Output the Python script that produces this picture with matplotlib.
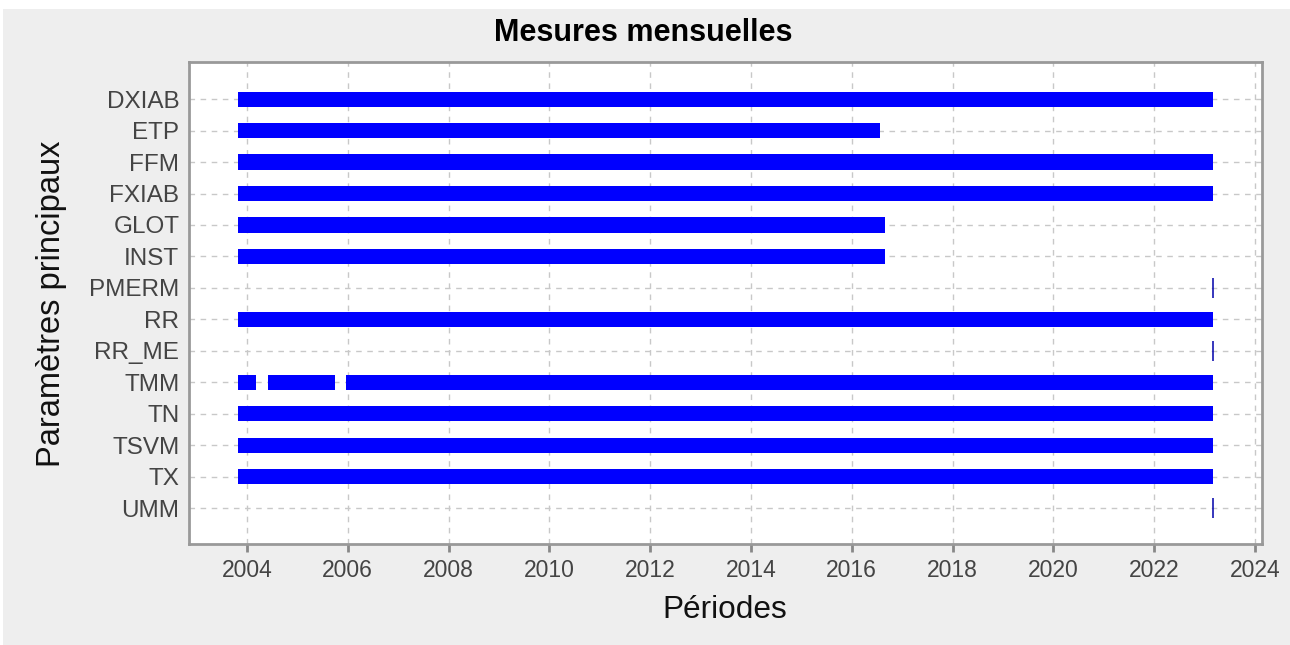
import matplotlib
matplotlib.use("Agg")
import matplotlib.pyplot as plt
from matplotlib.patches import Rectangle

plt.rcParams['font.family'] = ['Liberation Sans', 'DejaVu Sans']

# parameters, top to bottom
params = ['DXIAB', 'ETP', 'FFM', 'FXIAB', 'GLOT', 'INST', 'PMERM',
          'RR', 'RR_ME', 'TMM', 'TN', 'TSVM', 'TX', 'UMM']

# measurement periods per parameter, as (start, end) in decimal years
periods = {
    'DXIAB': [(2003.83, 2023.17)],
    'ETP':   [(2003.83, 2016.56)],
    'FFM':   [(2003.83, 2023.17)],
    'FXIAB': [(2003.83, 2023.17)],
    'GLOT':  [(2003.83, 2016.66)],
    'INST':  [(2003.83, 2016.66)],
    'PMERM': [(2023.17, 2023.17)],
    'RR':    [(2003.83, 2023.17)],
    'RR_ME': [(2023.17, 2023.17)],
    'TMM':   [(2003.83, 2004.17), (2004.42, 2005.75), (2005.96, 2023.17)],
    'TN':    [(2003.83, 2023.17)],
    'TSVM':  [(2003.83, 2023.17)],
    'TX':    [(2003.83, 2023.17)],
    'UMM':   [(2023.17, 2023.17)],
}

x_ticks = list(range(2004, 2025, 2))

W, H = 1290, 645
fig = plt.figure(figsize=(W / 100, H / 100), dpi=100)
fig.patch.set_facecolor('white')
fig.patches.append(Rectangle((3 / W, 0), 1 - 3 / W, 1 - 9 / H, transform=fig.transFigure,
                             facecolor='#eeeeee', edgecolor='none', zorder=-10))

ax = fig.add_axes([189 / W, 101 / H, (1262 - 189) / W, (544 - 62) / H])
ax.set_facecolor('white')

for i, p in enumerate(params):
    for start, end in periods[p]:
        if end - start > 0:
            ax.barh(i, end - start, left=start, height=0.48, color='#0000ff', zorder=3)
        else:
            # single-month record: thin tick
            ax.plot([start], [i], marker='|', markersize=15, markeredgewidth=1.1,
                    color='#0000aa', zorder=3)

ax.set_xlim(2002.85, 2024.14)
ax.set_ylim(14.14, -1.18)
ax.set_yticks(range(len(params)))
ax.set_yticklabels(params)
ax.set_xticks(x_ticks)
ax.set_xticklabels([str(t) for t in x_ticks])

ax.grid(True, color='#c8c8c8', linestyle=(0, (4, 4)), linewidth=1, zorder=0)
ax.set_axisbelow(True)
ax.tick_params(axis='y', length=0, pad=7, labelsize=17.5, labelcolor='#444444')
ax.tick_params(axis='x', length=6, width=2, color='#888888', pad=5,
               labelsize=16.5, labelcolor='#444444')
for s in ax.spines.values():
    s.set_color('#999999')
    s.set_linewidth(2)

fig.text(643 / W, 1 - 33 / H, 'Mesures mensuelles', ha='center', va='center',
         fontsize=22, fontweight='bold', color='black')
fig.text(52 / W, 1 - 304 / H, 'Paramètres principaux', ha='center', va='center',
         rotation=90, fontsize=23.5, color='#111111')
fig.text(725 / W, 1 - 610 / H, 'Périodes', ha='center', va='center',
         fontsize=22.7, color='#111111')

fig.savefig('out.png', dpi=100, facecolor=fig.get_facecolor())
